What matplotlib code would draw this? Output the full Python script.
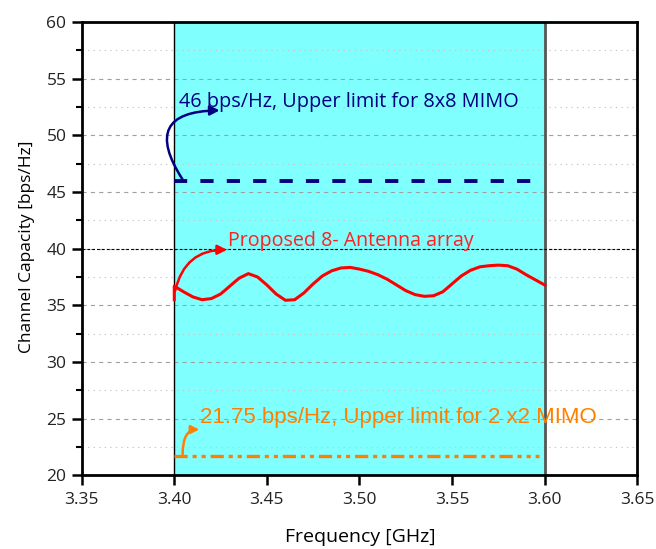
import numpy as np
import matplotlib
matplotlib.use("Agg")
import matplotlib.pyplot as plt
from matplotlib.ticker import MultipleLocator

plt.rcParams['font.family'] = ['Open Sans', 'DejaVu Sans']
plt.rcParams['lines.scale_dashes'] = False

# Channel capacity of the proposed 8-antenna array across the band
freq = [3.400, 3.400, 3.405, 3.410, 3.415, 3.420, 3.425, 3.430, 3.435, 3.440,
        3.445, 3.450, 3.455, 3.460, 3.465, 3.470, 3.475, 3.480, 3.485, 3.490,
        3.495, 3.500, 3.505, 3.510, 3.515, 3.520, 3.525, 3.530, 3.535, 3.540,
        3.545, 3.550, 3.555, 3.560, 3.565, 3.570, 3.575, 3.580, 3.585, 3.590,
        3.595, 3.600]
capacity = [35.5, 36.7, 36.2, 35.75, 35.5, 35.6, 36.0, 36.7, 37.4, 37.8,
            37.5, 36.8, 36.0, 35.45, 35.5, 36.1, 36.9, 37.6, 38.05, 38.3,
            38.35, 38.2, 38.0, 37.7, 37.3, 36.8, 36.3, 35.95, 35.8, 35.85,
            36.2, 36.9, 37.6, 38.1, 38.4, 38.5, 38.55, 38.5, 38.2, 37.7,
            37.25, 36.8]

# Theoretical upper limits
limit_freq = [3.400, 3.597]
limit_8x8 = [46.0, 46.0]
limit_2x2 = [21.75, 21.75]

band = (3.40, 3.60)

fig = plt.figure(figsize=(6.56, 5.49), dpi=100)
ax = fig.add_axes([0.1245, 0.134, 0.847, 0.826])

ax.axvspan(*band, color='#80FFFF', zorder=0.1, lw=0)
ax.axvline(band[0], color='black', lw=1.0, zorder=0.6)
ax.axvline(band[1], color='#555555', lw=2.0, zorder=0.6)

ax.set_axisbelow(True)
ax.yaxis.set_major_locator(MultipleLocator(5))
ax.yaxis.set_minor_locator(MultipleLocator(2.5))
ax.xaxis.set_major_locator(MultipleLocator(0.05))
ax.grid(axis='y', which='major', color='#a0a0a0', ls=(0, (3, 3)), lw=0.8)
ax.grid(axis='y', which='minor', color='#c8c8c8', ls=(0, (1, 3)), lw=0.8)
ax.axhline(40, color='black', ls=(0, (2, 1.5)), lw=0.8, zorder=0.7)

ax.plot(limit_freq, limit_8x8, color='#000080', lw=2.8, dashes=(9.5, 9.5))
ax.plot(freq, capacity, color='#FF0000', lw=2.2)
ax.plot(limit_freq, limit_2x2, color='#FF8000', lw=2.4,
        dashes=(9.5, 3.5, 3.0, 3.5, 3.0, 3.5))

ax.text(3.4025, 52.5, '46 bps/Hz, Upper limit for 8x8 MIMO', color='#000080',
        fontsize=14.3, va='baseline')
ax.annotate('', xy=(3.4245, 52.2), xytext=(3.4045, 46.1),
            arrowprops=dict(arrowstyle='-|>', color='#000080', lw=1.8,
                            mutation_scale=14, shrinkA=0, shrinkB=0,
                            connectionstyle='arc3,rad=-0.9'))

ax.text(3.429, 40.2, 'Proposed 8- Antenna array', color='#FF2020',
        fontsize=14.1, va='baseline')
ax.annotate('', xy=(3.4285, 39.9), xytext=(3.4005, 36.3),
            arrowprops=dict(arrowstyle='-|>', color='#FF0000', lw=1.8,
                            mutation_scale=14, shrinkA=0, shrinkB=0,
                            connectionstyle='arc3,rad=-0.4'))

ax.text(3.4139, 24.65, '21.75 bps/Hz, Upper limit for 2 x2 MIMO', color='#FF8000',
        fontsize=16, va='baseline', family=['Liberation Sans', 'DejaVu Sans'])
ax.annotate('', xy=(3.4135, 24.05), xytext=(3.4045, 21.85),
            arrowprops=dict(arrowstyle='-|>', color='#FF8000', lw=1.8,
                            mutation_scale=12, shrinkA=0, shrinkB=0,
                            connectionstyle='angle3,angleA=90,angleB=0'))

ax.set_xlim(3.35, 3.65)
ax.set_ylim(20, 60)
ax.set_xticklabels([f'{v:.2f}' for v in ax.get_xticks()])
ax.set_xlim(3.35, 3.65)

for side in ['left', 'bottom', 'top', 'right']:
    ax.spines[side].set_linewidth(2.0)
    ax.spines[side].set_color('black')
ax.tick_params(axis='both', which='major', direction='out', length=7, width=1.8,
               labelsize=12.5, labelcolor='#222222')
ax.tick_params(axis='y', which='minor', direction='out', length=4, width=1.5)
ax.tick_params(axis='x', pad=5)
ax.tick_params(axis='y', pad=4)

fig.text(360 / 656, 1 - 537 / 549, 'Frequency [GHz]', fontsize=14,
         ha='center', va='center')
fig.text(27 / 656, 1 - 247 / 549, 'Channel Capacity [bps/Hz]', fontsize=12.5,
         ha='center', va='center', rotation=90)

fig.savefig('out.png', dpi=100)
